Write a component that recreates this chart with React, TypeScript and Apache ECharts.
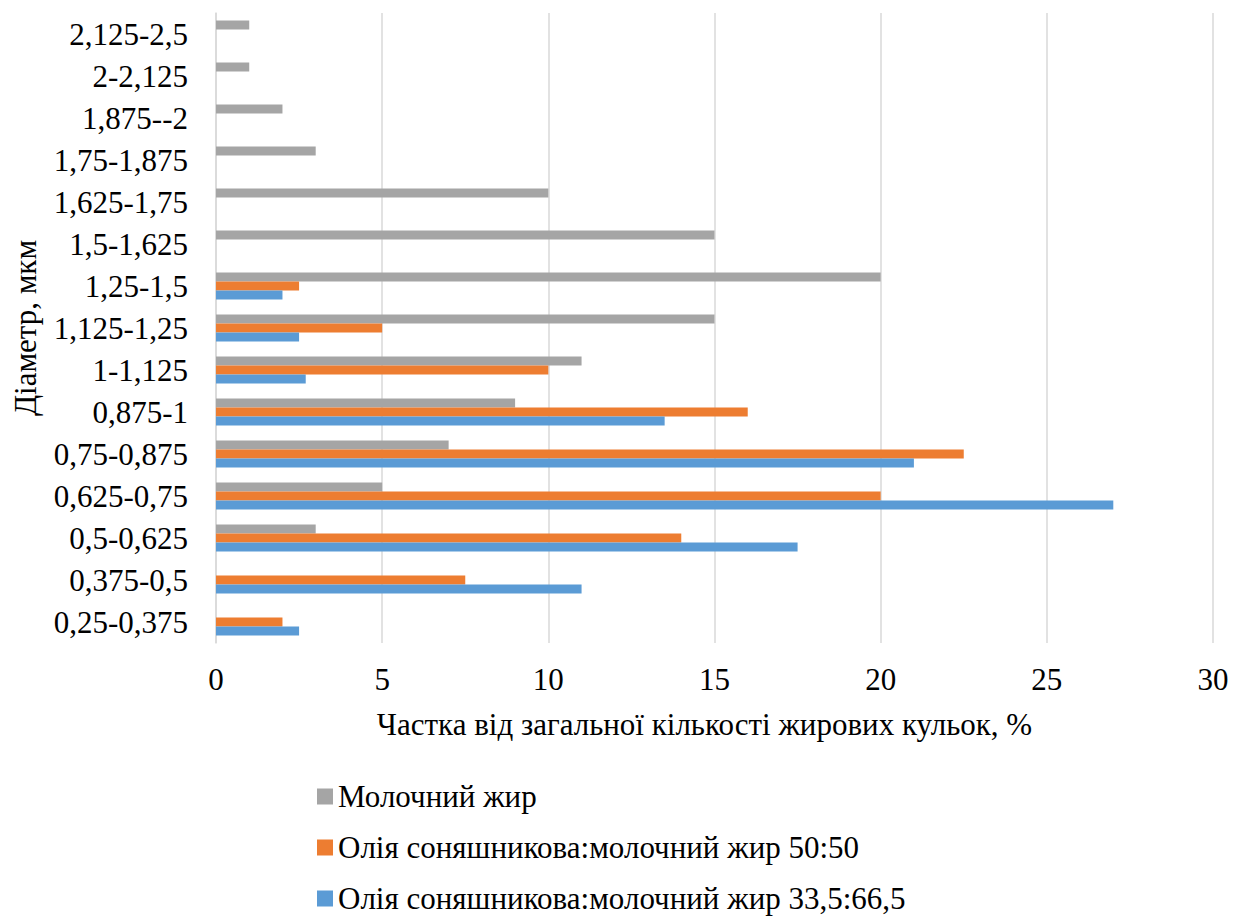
import React, { useEffect, useRef } from "react";
import * as echarts from "echarts";

const categories = [
  "0,25-0,375",
  "0,375-0,5",
  "0,5-0,625",
  "0,625-0,75",
  "0,75-0,875",
  "0,875-1",
  "1-1,125",
  "1,125-1,25",
  "1,25-1,5",
  "1,5-1,625",
  "1,625-1,75",
  "1,75-1,875",
  "1,875--2",
  "2-2,125",
  "2,125-2,5",
];

const milkFat = [0, 0, 3, 5, 7, 9, 11, 15, 20, 15, 10, 3, 2, 1, 1];
const mix5050 = [2, 7.5, 14, 20, 22.5, 16, 10, 5, 2.5, null, null, null, null, null, null];
const mix335 = [2.5, 11, 17.5, 27, 21, 13.5, 2.7, 2.5, 2, null, null, null, null, null, null];

const seriesNames = [
  "Молочний жир",
  "Олія соняшникова:молочний жир 50:50",
  "Олія соняшникова:молочний жир 33,5:66,5",
];
const xAxisTitle = "Частка від загальної кількості жирових кульок, %";
const yAxisTitle = "Діаметр, мкм";

const FONT = '"Liberation Serif", "Times New Roman", serif';

export default function App() {
  const ref = useRef<HTMLDivElement>(null);
  useEffect(() => {
    if (!ref.current) return;
    const chart = echarts.init(ref.current, undefined, { renderer: "svg" });
    chart.setOption({
      animation: false,
      textStyle: { fontFamily: FONT },
      grid: { left: 216, right: 34, top: 13, bottom: 279, containLabel: false },
      legend: {
        orient: "vertical",
        left: 317,
        top: 781,
        height: 141,
        padding: 0,
        itemWidth: 16,
        itemHeight: 16,
        itemGap: 20,
        icon: "rect",
        data: seriesNames,
        textStyle: { fontFamily: FONT, fontSize: 31, color: "#000", lineHeight: 30 },
      },
      xAxis: {
        type: "value",
        min: 0,
        max: 30,
        interval: 5,
        name: xAxisTitle,
        nameLocation: "middle",
        nameGap: 66,
        nameTextStyle: { fontFamily: FONT, fontSize: 31, color: "#000", padding: [0, 20, 0, 0] },
        axisLine: { show: false },
        axisTick: { show: false },
        axisLabel: { fontFamily: FONT, fontSize: 31, color: "#000", margin: 21 },
        splitLine: { show: true, lineStyle: { color: "#d9d9d9", width: 1.5 } },
      },
      yAxis: {
        type: "category",
        data: categories,
        name: yAxisTitle,
        nameLocation: "middle",
        nameGap: 175,
        nameRotate: 90,
        nameTextStyle: { fontFamily: FONT, fontSize: 31, color: "#000" },
        axisLine: { show: true, lineStyle: { color: "#d9d9d9", width: 1.5 } },
        axisTick: { show: false },
        axisLabel: { fontFamily: FONT, fontSize: 31, color: "#000", margin: 28 },
        splitLine: { show: false },
      },
      series: [
        {
          name: seriesNames[0],
          type: "bar",
          data: milkFat,
          barWidth: 9,
          barGap: "0%",
          itemStyle: { color: "#A5A5A5" },
        },
        {
          name: seriesNames[1],
          type: "bar",
          data: mix5050,
          barWidth: 9,
          barGap: "0%",
          itemStyle: { color: "#ED7D31" },
        },
        {
          name: seriesNames[2],
          type: "bar",
          data: mix335,
          barWidth: 9,
          barGap: "0%",
          itemStyle: { color: "#5B9BD5" },
        },
      ],
    });
    return () => chart.dispose();
  }, []);
  return (
    <div
      ref={ref}
      style={{ position: "absolute", left: 0, top: 0, width: 1247, height: 922 }}
    />
  );
}
